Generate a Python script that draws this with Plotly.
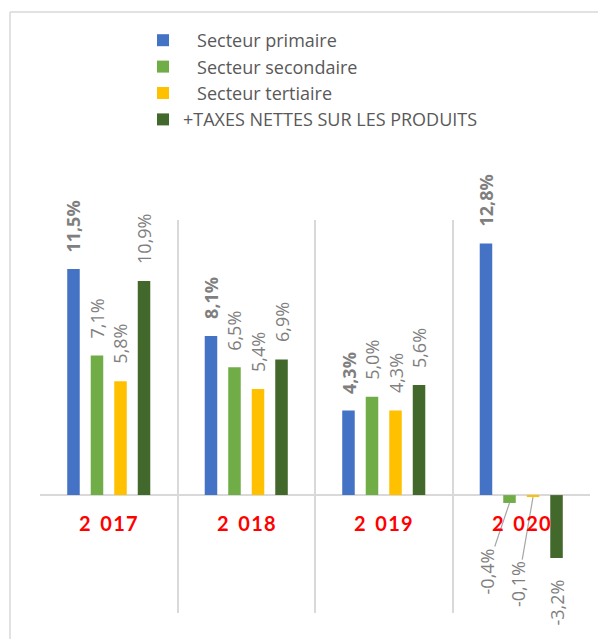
import plotly.graph_objects as go

# ---- data ----
years = ["2 017", "2 018", "2 019", "2 020"]
series_names = ["Secteur primaire", "Secteur secondaire", "Secteur tertiaire",
                "+TAXES NETTES SUR LES PRODUITS"]
primaire = [11.5, 8.1, 4.3, 12.8]
secondaire = [7.1, 6.5, 5.0, -0.4]
tertiaire = [5.8, 5.4, 4.3, -0.1]
taxes = [10.9, 6.9, 5.6, -3.2]

# ---- style ----
W, H = 606, 639
OFF = 8                      # page body margin of the exported html
# target screen geometry of the plot area
SX0, SX1, SY0, SY1 = 40, 590, 220, 613
ML, MT = SX0 - OFF, SY0 - OFF
MR, MB = W - (SX1 - OFF), H - (SY1 - OFF)
colors = ["#4472C4", "#70AD47", "#FFC000", "#43682B"]
legend_pad = ["\u00a0\u00a0\u00a0", "\u00a0\u00a0\u00a0", "\u00a0\u00a0\u00a0", ""]
FONT = "Open Sans"
GRID = "#D9D9D9"
LABEL_COL = "#7F7F7F"
SLOT = 0.171      # distance between bar centres (category units)
BARW = 0.091      # bar width (category units)

values = [primaire, secondaire, tertiaire, taxes]
xs = list(range(len(years)))

fig = go.Figure()
for i, (name, vals) in enumerate(zip(series_names, values)):
    off = (i - 1.5) * SLOT
    fig.add_trace(go.Bar(
        x=xs, y=vals, name=legend_pad[i] + name,
        marker=dict(color=colors[i], line=dict(width=0)),
        width=BARW, offset=off - BARW / 2,
        hoverinfo="skip",
    ))

# special label placement (pixel offsets, leader lines)
leader = {(1, 3): (-23, 68), (2, 3): (-15, 87)}

annotations = []
for i, vals in enumerate(values):
    off = (i - 1.5) * SLOT
    for j, v in enumerate(vals):
        txt = f"{v:.1f}%".replace(".", ",")
        if i == 0:
            txt = "<b>" + txt + "</b>"
        base = dict(x=j + off, y=v, xref="x", yref="y", text=txt, textangle=-90,
                    font=dict(family=FONT, size=18, color=LABEL_COL))
        if (i, j) in leader:
            ax, ay = leader[(i, j)]
            base.update(showarrow=True, ax=ax, ay=ay, arrowhead=0, arrowwidth=1.2,
                        arrowcolor="#A6A6A6", standoff=0, startstandoff=0)
        elif v >= 0:
            base.update(showarrow=False, yanchor="bottom", yshift=15)
        else:
            base.update(showarrow=False, yanchor="top", yshift=-20)
        annotations.append(base)

for j, yr in enumerate(years):
    head, tail = yr.split(" ")
    sp = head + "\u00a0\u00a0" + "\u200a".join(tail)
    annotations.append(dict(x=j, y=0, xref="x", yref="y", text="<b>" + sp + "</b>",
                            showarrow=False, yanchor="middle", yshift=-28,
                            font=dict(family="Lato", size=20, color="#FF0000")))

plot_h = H - MT - MB
plot_w = W - ML - MR
def px(xs_):
    return (xs_ - OFF - ML) / plot_w
def py(ys_):
    return (H - MB - (ys_ - OFF)) / plot_h

shapes = [
    dict(type="line", xref="paper", yref="paper", x0=px(10), x1=px(10),
         y0=py(12), y1=py(H + 20), line=dict(color=GRID, width=1.5)),
    dict(type="line", xref="paper", yref="paper", x0=px(10), x1=px(W + 20),
         y0=py(12), y1=py(12), line=dict(color=GRID, width=1.5)),
]

fig.update_layout(
    width=W, height=H,
    margin=dict(l=ML, r=MR, t=MT, b=MB),
    paper_bgcolor="white", plot_bgcolor="white",
    barmode="overlay",
    showlegend=True,
    legend=dict(x=px(143), y=py(22), xanchor="left", yanchor="top",
                font=dict(family=FONT, size=18, color="#595959"),
                bgcolor="rgba(0,0,0,0)", traceorder="normal"),
    xaxis=dict(range=[-0.5, len(years) - 0.5], tickmode="array",
               tickvals=[k - 0.5 for k in range(len(years) + 1)],
               showticklabels=False, showgrid=True, gridcolor=GRID, gridwidth=1.5,
               zeroline=False, showline=False, fixedrange=True),
    yaxis=dict(range=[-6, 14], showticklabels=False, showgrid=False,
               zeroline=True, zerolinecolor=GRID, zerolinewidth=2,
               showline=False, fixedrange=True),
    annotations=annotations,
    shapes=shapes,
)

fig.write_html("out.html")
